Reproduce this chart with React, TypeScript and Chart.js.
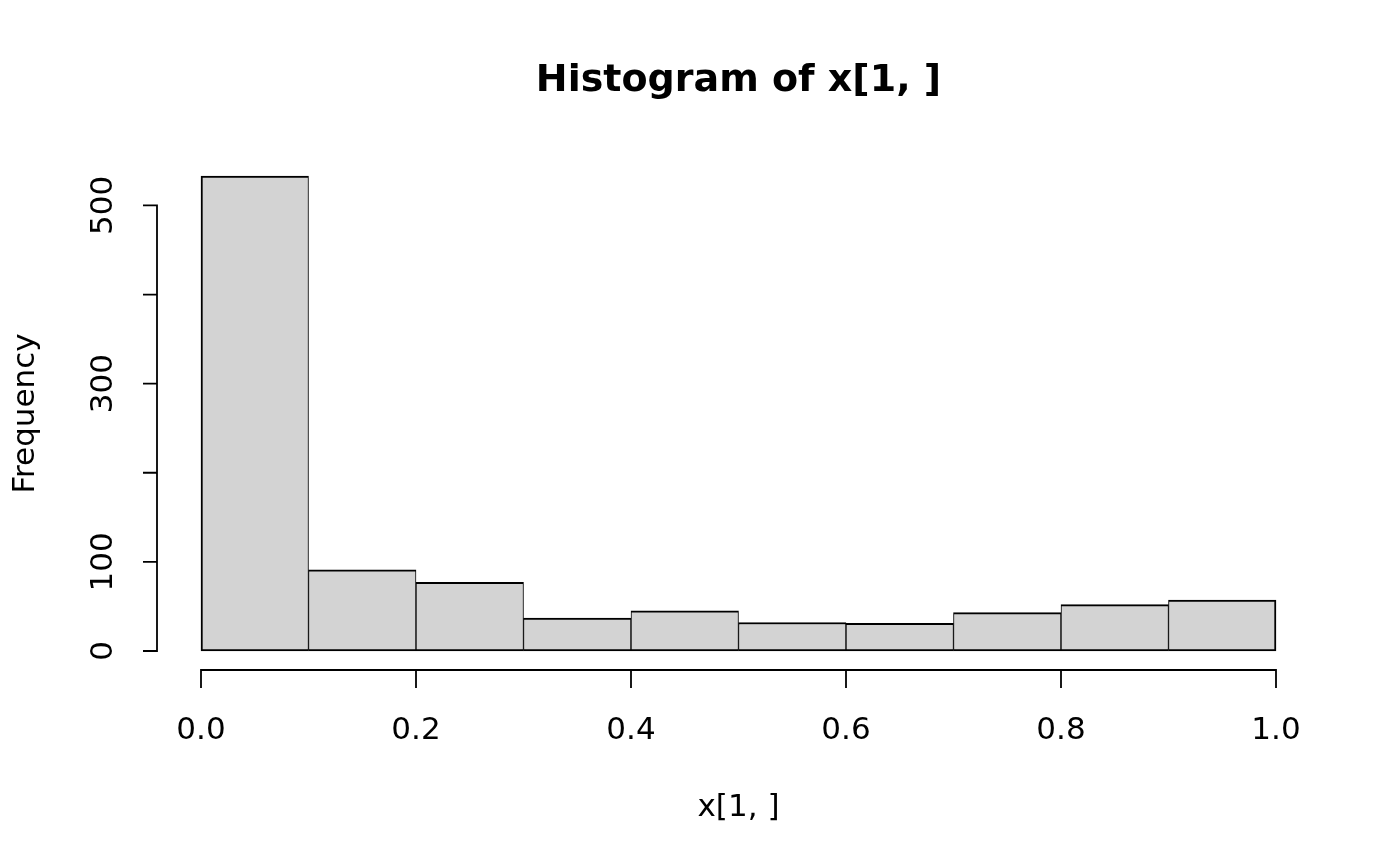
import React, { useEffect, useRef } from "react";
import { Chart, registerables } from "chart.js";

Chart.register(...registerables);

// ---- data ----
const binStarts = [0.0, 0.1, 0.2, 0.3, 0.4, 0.5, 0.6, 0.7, 0.8, 0.9];
const binWidth = 0.1;
const counts = [533, 91, 77, 37, 45, 32, 31, 43, 52, 57];
const xTicks = [0.0, 0.2, 0.4, 0.6, 0.8, 1.0];
const xTickLabels = ["0.0", "0.2", "0.4", "0.6", "0.8", "1.0"];
const yTicks = [0, 100, 200, 300, 400, 500];
const yTickLabels = ["0", "100", "", "300", "", "500"];
const titleText = "Histogram of x[1, ]";
const xTitle = "x[1, ]";
const yTitle = "Frequency";

const FONT = "'DejaVu Sans', 'Liberation Sans', sans-serif";

const xMin = binStarts[0];
const xMax = binStarts[binStarts.length - 1] + binWidth;
const xPad = (xMax - xMin) * 0.04;
const yMaxData = Math.max(...counts);
const yPad = yMaxData * 0.04;

const axesPlugin = {
  id: "rAxes",
  afterDraw(chart: any) {
    const { ctx, chartArea, scales } = chart;
    const xs = scales.x;
    const ys = scales.y;
    ctx.save();
    ctx.strokeStyle = "#000";
    ctx.fillStyle = "#000";
    ctx.lineWidth = 1.8;
    ctx.lineCap = "butt";

    // x axis
    const xAxisY = chartArea.bottom;
    ctx.beginPath();
    ctx.moveTo(xs.getPixelForValue(xTicks[0]) - 0.9, xAxisY);
    ctx.lineTo(xs.getPixelForValue(xTicks[xTicks.length - 1]) + 0.9, xAxisY);
    xTicks.forEach((v) => {
      const px = xs.getPixelForValue(v);
      ctx.moveTo(px, xAxisY);
      ctx.lineTo(px, xAxisY + 18);
    });
    ctx.stroke();
    ctx.font = `31px ${FONT}`;
    ctx.textAlign = "center";
    ctx.textBaseline = "alphabetic";
    xTicks.forEach((v, i) => {
      ctx.fillText(xTickLabels[i], xs.getPixelForValue(v), xAxisY + 69);
    });

    // y axis
    const yAxisX = chartArea.left - 1;
    ctx.beginPath();
    ctx.moveTo(yAxisX, ys.getPixelForValue(yTicks[0]) + 0.9);
    ctx.lineTo(yAxisX, ys.getPixelForValue(yTicks[yTicks.length - 1]) - 0.9);
    yTicks.forEach((v) => {
      const py = ys.getPixelForValue(v);
      ctx.moveTo(yAxisX, py);
      ctx.lineTo(yAxisX - 14, py);
    });
    ctx.stroke();
    yTicks.forEach((v, i) => {
      if (!yTickLabels[i]) return;
      const py = ys.getPixelForValue(v);
      ctx.save();
      ctx.translate(yAxisX - 45, py);
      ctx.rotate(-Math.PI / 2);
      ctx.textAlign = "center";
      ctx.fillText(yTickLabels[i], 0, 0);
      ctx.restore();
    });

    // axis titles
    const cx = (chartArea.left + chartArea.right) / 2;
    const cy = (chartArea.top + chartArea.bottom) / 2;
    ctx.textAlign = "center";
    ctx.fillText(xTitle, cx, 816);
    ctx.save();
    ctx.translate(34, cy);
    ctx.rotate(-Math.PI / 2);
    ctx.fillText(yTitle, 0, 0);
    ctx.restore();

    // main title
    ctx.font = `bold 38px ${FONT}`;
    ctx.fillText(titleText, cx, 91);
    ctx.restore();
  },
};

export default function App() {
  const canvasRef = useRef<HTMLCanvasElement | null>(null);

  useEffect(() => {
    const canvas = canvasRef.current;
    if (!canvas) return;
    const last = counts.length - 1;
    const chart = new Chart(canvas, {
      type: "bar",
      data: {
        datasets: [
          {
            data: counts.map((c, i) => ({ x: binStarts[i] + binWidth / 2, y: c })),
            backgroundColor: "#D3D3D3",
            borderColor: "#000000",
            borderWidth: (ctx: any) => ({
              top: 2,
              bottom: 2,
              left: ctx.dataIndex === 0 ? 2 : 1,
              right: ctx.dataIndex === last ? 2 : 1,
            }),
            borderSkipped: false,
            categoryPercentage: 1,
            barPercentage: 1,
          } as any,
        ],
      },
      options: {
        animation: false,
        responsive: false,
        devicePixelRatio: 1,
        layout: { padding: { left: 158, right: 81, top: 157, bottom: 196 } },
        plugins: {
          legend: { display: false },
          title: { display: false },
          tooltip: { enabled: false },
        },
        scales: {
          x: {
            type: "linear",
            display: false,
            offset: false,
            min: xMin - xPad,
            max: xMax + xPad,
            ticks: { stepSize: binWidth, includeBounds: false },
          },
          y: {
            type: "linear",
            display: false,
            min: -yPad,
            max: yMaxData + yPad,
          },
        },
      } as any,
      plugins: [axesPlugin],
    });
    return () => chart.destroy();
  }, []);

  return (
    <div style={{ position: "absolute", left: 0, top: 0, width: 1400, height: 866, background: "#fff" }}>
      <canvas ref={canvasRef} width={1400} height={866} style={{ width: 1400, height: 866, display: "block" }} />
    </div>
  );
}
